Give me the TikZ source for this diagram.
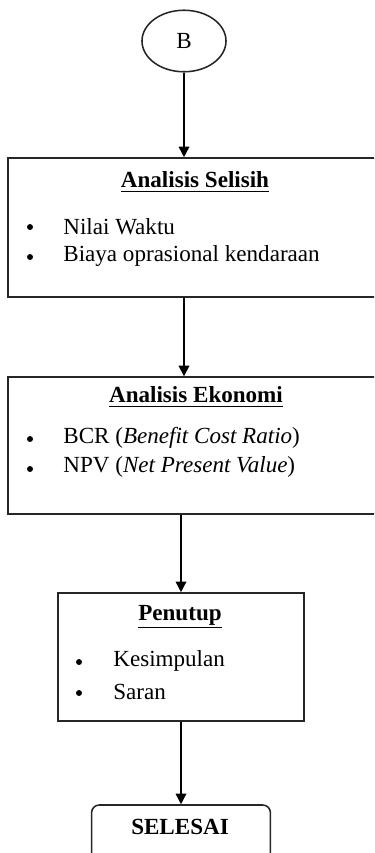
\documentclass[tikz,border=0pt]{standalone}
\usepackage{fontspec}
\setmainfont{Liberation Serif}
\usetikzlibrary{positioning,arrows.meta,shapes.geometric}

\begin{document}
\begin{tikzpicture}[x=0.52pt,y=-0.52pt,
    font=\fontsize{12}{14}\selectfont,
    kotak/.style={draw=black!85,line width=0.8pt,inner sep=0pt},
    panah/.style={draw=black,line width=0.8pt,-{Triangle[length=5.5pt,width=5.5pt]}},
    judul/.style={font=\fontsize{12}{14}\selectfont\bfseries},
    titik/.style={circle,fill=black,inner sep=0pt,minimum size=3.1pt},
    butir/.style={anchor=west,inner sep=0pt}]
            % Frame
            \useasboundingbox (0,0) rectangle (374,853);
            \clip (0,0) rectangle (374,853);

            % Off-page connector
            \node[ellipse,kotak,minimum width=43.7pt,minimum height=32pt] (B) at (184,41) {B};

            % Boxes
            \node[kotak,minimum width=191.4pt,minimum height=72.3pt] (selisih) at (192,227.5) {};
            \node[kotak,minimum width=191.4pt,minimum height=71.2pt] (ekonomi) at (192,445.5) {};
            \node[kotak,minimum width=127.9pt,minimum height=66.6pt] (penutup) at (181,657) {};
            \node[kotak,rounded corners=4pt,minimum width=93pt,minimum height=39pt] (selesai) at (181,842.5) {};

            % Titles
            \node[judul] (selisihJudul) at (195,182) {\underline{Analisis Selisih}};
            \node[judul] (ekonomiJudul) at (196,397) {\underline{Analisis Ekonomi}};
            \node[judul] (penutupJudul) at (180,617) {\underline{Penutup}};
            \node[judul] (selesaiJudul) at (180,827) {SELESAI};

            % Items
            \node[titik] (selisihTitikA) at (30,227) {};
            \node[titik] (selisihTitikB) at (30,257) {};
            \node[butir] (selisihA) at (63,227) {Nilai Waktu};
            \node[butir] (selisihB) at (63,256) {Biaya oprasional kendaraan};

            \node[titik] (ekonomiTitikA) at (30,439) {};
            \node[titik] (ekonomiTitikB) at (30,469) {};
            \node[butir] (ekonomiA) at (63,438) {BCR (\textit{Benefit Cost Ratio})};
            \node[butir] (ekonomiB) at (63,467) {NPV (\textit{Net Present Value})};

            \node[titik] (penutupTitikA) at (79,662) {};
            \node[titik] (penutupTitikB) at (79,693) {};
            \node[butir] (penutupA) at (113,661) {Kesimpulan};
            \node[butir] (penutupB) at (113,692) {Saran};

            % Flow
            \draw[panah] (B.south) -- (B.south |- selisih.north);
            \draw[panah] (selisih.south -| B.south) -- (ekonomi.north -| B.south);
            \draw[panah] (ekonomi.south -| penutup.north) -- (penutup.north);
            \draw[panah] (penutup.south) -- (selesai.north);
          \end{tikzpicture}
\end{document}
